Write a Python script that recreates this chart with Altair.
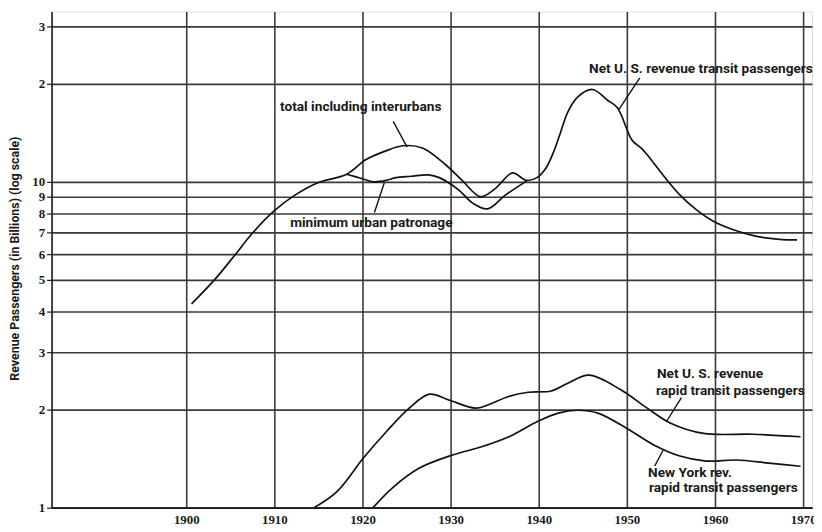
import altair as alt
import pandas as pd

# ---- data (year, revenue passengers in billions) ----
total_years = [1900.6, 1903.2, 1905.5, 1907.5, 1910.0, 1912.2, 1914.8, 1918.2, 1920.4, 1922.5,
               1924.6, 1926.8, 1929.4, 1931.3, 1933.4, 1935.1, 1937.0, 1938.6, 1939.8, 1940.8,
               1941.6, 1942.4, 1943.3, 1944.4, 1946.1, 1947.8, 1948.9, 1950.6, 1951.6, 1952.3,
               1954.2, 1956.0, 1957.9, 1959.8, 1962.0, 1964.6, 1967.3, 1969.3]
total_vals = [4.22, 5.0, 5.95, 6.95, 8.15, 9.05, 9.9, 10.55, 11.7, 12.4,
              12.9, 12.7, 11.3, 10.1, 9.0, 9.55, 10.65, 10.1, 10.3, 11.0,
              12.2, 14.0, 16.4, 18.2, 19.2, 17.8, 16.9, 13.4, 12.7, 12.1,
              10.4, 9.12, 8.2, 7.57, 7.14, 6.81, 6.66, 6.63]

urban_years = [1918.2, 1920.1, 1921.2, 1922.7, 1923.8, 1925.5, 1927.5, 1928.7, 1930.9,
               1932.5, 1934.2, 1936.2, 1938.6]
urban_vals = [10.55, 10.2, 10.0, 10.1, 10.3, 10.4, 10.5, 10.3, 9.45,
              8.6, 8.26, 9.1, 10.05]

rapid_years = [1914.5, 1917.1, 1920.1, 1922.7, 1925.3, 1927.6, 1929.8, 1932.8, 1934.3, 1936.5,
               1938.8, 1941.4, 1943.3, 1945.7, 1949.3, 1952.3, 1954.9, 1958.7, 1964.3, 1969.7]
rapid_vals = [1.0, 1.12, 1.42, 1.71, 2.02, 2.23, 2.14, 2.02, 2.07, 2.19,
              2.26, 2.28, 2.41, 2.55, 2.30, 2.02, 1.82, 1.69, 1.68, 1.65]

ny_years = [1921.2, 1923.4, 1926.4, 1930.2, 1933.6, 1936.6, 1939.9, 1942.2, 1944.4, 1946.7,
            1950.0, 1953.0, 1956.0, 1959.0, 1962.4, 1966.1, 1969.7]
ny_vals = [1.0, 1.15, 1.32, 1.45, 1.54, 1.65, 1.84, 1.95, 1.99, 1.95,
           1.75, 1.56, 1.44, 1.39, 1.40, 1.37, 1.34]

x_ticks = [1900, 1910, 1920, 1930, 1940, 1950, 1960, 1970]
y_ticks = [1, 2, 3, 4, 5, 6, 7, 8, 9, 10, 20, 30]

rows = []
for name, ys, vs in [("total", total_years, total_vals),
                     ("urban", urban_years, urban_vals),
                     ("rapid", rapid_years, rapid_vals),
                     ("ny", ny_years, ny_vals)]:
    for y, v in zip(ys, vs):
        rows.append({"series": name, "year": y, "value": v})
df = pd.DataFrame(rows)

# annotation texts (position in data coordinates)
labels = pd.DataFrame([
    {"text": "Net U. S.  revenue transit passengers", "year": 1945.7, "value": 22.2, "align": "left"},
    {"text": "total including interurbans", "year": 1919.8, "value": 17.0, "align": "center"},
    {"text": "minimum urban patronage", "year": 1921.0, "value": 7.45, "align": "center"},
    {"text": "Net U. S.  revenue", "year": 1953.4, "value": 2.57, "align": "left"},
    {"text": "rapid transit passengers", "year": 1953.3, "value": 2.28, "align": "left"},
    {"text": "New York rev.", "year": 1952.4, "value": 1.277, "align": "left"},
    {"text": "rapid transit passengers", "year": 1952.5, "value": 1.15, "align": "left"},
])
leaders = pd.DataFrame([
    {"x": 1951.46, "y": 20.85, "x2": 1949.10, "y2": 16.67},
    {"x": 1923.48, "y": 15.32, "x2": 1925.06, "y2": 12.78},
    {"x": 1921.35, "y": 8.05, "x2": 1922.47, "y2": 9.93},
    {"x": 1956.18, "y": 2.175, "x2": 1954.49, "y2": 1.838},
    {"x": 1954.1, "y": 1.50, "x2": 1953.15, "y2": 1.342},
])

xscale = alt.Scale(domain=[1884.72, 1971.0], nice=False, zero=False)
yscale = alt.Scale(type="log", domain=[1, 33.3], nice=False)

grid_color = "#3a3a3a"

x_axis = alt.Axis(values=x_ticks, format="d", grid=True, ticks=False, labelPadding=6,
                  title=None, labelFont="Liberation Serif", labelFontSize=13,
                  labelFontWeight="bold", labelColor="#1a1a1a", gridColor=grid_color,
                  gridWidth=1.6, gridOpacity=1, domainColor="#1a1a1a", domainWidth=1.6)
y_axis = alt.Axis(values=y_ticks, grid=True, ticks=True, tickSize=5, tickColor="#1a1a1a",
                  tickWidth=1.2, labelPadding=2,
                  labelExpr="datum.value >= 20 ? toString(datum.value / 10) : toString(datum.value)",
                  labelFont="Liberation Serif", labelFontSize=13, labelFontWeight="bold",
                  labelColor="#1a1a1a", gridColor=grid_color, gridWidth=1.6, gridOpacity=1,
                  domainColor="#1a1a1a", domainWidth=1.6,
                  title="Revenue Passengers  (in Billions)  (log scale)",
                  titleFont="Roboto", titleFontSize=12.5, titleFontWeight="bold",
                  titleColor="#1a1a1a", titleAngle=270, titleAlign="center",
                  titleBaseline="middle", titleX=-37, titleY=249)

lines = alt.Chart(df).mark_line(color="#111111", strokeWidth=1.7, interpolate="catmull-rom", clip=True).encode(
    x=alt.X("year:Q", scale=xscale, axis=x_axis),
    y=alt.Y("value:Q", scale=yscale, axis=y_axis),
    detail="series:N",
)

rules = alt.Chart(leaders).mark_rule(color="#111111", strokeWidth=1.4).encode(
    x=alt.X("x:Q", scale=xscale), y=alt.Y("y:Q", scale=yscale),
    x2="x2:Q", y2="y2:Q",
)

text_font = "Roboto"
txt_left = alt.Chart(labels[labels["align"] == "left"]).mark_text(
    align="left", baseline="middle", font=text_font, fontSize=13.8, fontWeight="bold", color="#1a1a1a"
).encode(x=alt.X("year:Q", scale=xscale), y=alt.Y("value:Q", scale=yscale), text="text:N")

txt_center = alt.Chart(labels[labels["align"] == "center"]).mark_text(
    align="center", baseline="middle", font=text_font, fontSize=13.8, fontWeight="bold", color="#1a1a1a"
).encode(x=alt.X("year:Q", scale=xscale), y=alt.Y("value:Q", scale=yscale), text="text:N")

chart = alt.layer(lines, rules, txt_left, txt_center).properties(
    width=768, height=501,
    autosize=alt.AutoSizeParams(type="none"),
    padding={"left": 44, "top": 1, "right": 2, "bottom": 21},
).configure_view(stroke="#1a1a1a", strokeWidth=1.6).configure(background="white")

chart.save("out.html", embed_options={"renderer": "svg", "actions": False})
